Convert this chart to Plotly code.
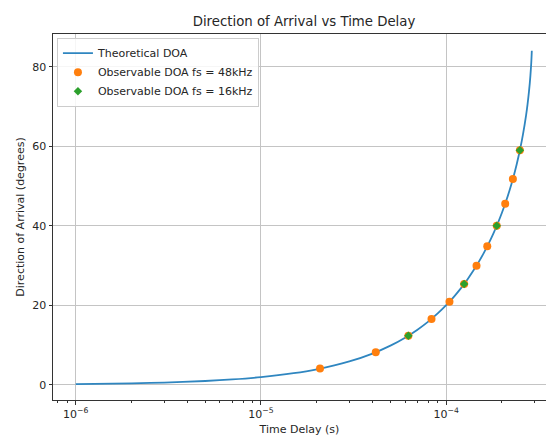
import plotly.graph_objects as go

# Theoretical DOA curve (time delay in s, angle in degrees)
theory_tau = [1e-6, 2e-6, 3e-6, 5e-6, 7e-6, 1e-5, 1.5e-5, 2e-5, 3e-5, 4e-5, 5e-5,
              6e-5, 7e-5, 8e-5, 9e-5, 1e-4, 1.1e-4, 1.2e-4, 1.3e-4, 1.4e-4, 1.5e-4,
              1.6e-4, 1.7e-4, 1.8e-4, 1.9e-4, 2.0e-4, 2.1e-4, 2.2e-4, 2.3e-4, 2.4e-4,
              2.5e-4, 2.6e-4, 2.7e-4, 2.75e-4, 2.8e-4, 2.85e-4, 2.88e-4, 2.9e-4]
theory_deg = [0.197, 0.393, 0.590, 0.983, 1.376, 1.966, 2.949, 3.934, 5.906, 7.886, 9.875,
              11.877, 13.892, 15.927, 17.98, 20.06, 22.17, 24.30, 26.48, 28.70, 30.96,
              33.29, 35.67, 38.12, 40.67, 43.31, 46.08, 48.99, 52.08, 55.40,
              59.04, 63.10, 67.84, 70.61, 73.85, 77.84, 81.06, 84.1]

# Observable DOA, fs = 48 kHz
obs48_tau = [2.0833e-5, 4.1667e-5, 6.25e-5, 8.3333e-5, 1.04167e-4, 1.25e-4,
             1.45833e-4, 1.66667e-4, 1.875e-4, 2.08333e-4, 2.29167e-4, 2.5e-4]
obs48_deg = [4.098, 8.217, 12.379, 16.608, 20.935, 25.387, 30.01, 34.87, 40.03,
             45.61, 51.83, 59.04]

# Observable DOA, fs = 16 kHz
obs16_tau = [6.25e-5, 1.25e-4, 1.875e-4, 2.5e-4]
obs16_deg = [12.379, 25.387, 40.03, 59.04]

x_tickvals = [1e-6, 1e-5, 1e-4]
x_ticktext = ["10<sup>−6</sup>", "10<sup>−5</sup>", "10<sup>−4</sup>"]
y_tickvals = [0, 20, 40, 60, 80]

font = "DejaVu Sans, sans-serif"

fig = go.Figure()
fig.add_trace(go.Scatter(x=theory_tau, y=theory_deg, mode="lines",
                         name="Theoretical DOA",
                         line=dict(color="#2f86c0", width=1.8, shape="spline")))
fig.add_trace(go.Scatter(x=obs48_tau, y=obs48_deg, mode="markers",
                         name="Observable DOA fs = 48kHz",
                         marker=dict(color="#ff7f0e", size=8, symbol="circle")))
fig.add_trace(go.Scatter(x=obs16_tau, y=obs16_deg, mode="markers",
                         name="Observable DOA fs = 16kHz",
                         marker=dict(color="#2ca02c", size=6.5, symbol="diamond")))

fig.update_layout(
    width=546, height=440,
    margin=dict(l=53, r=0, t=34, b=40),
    paper_bgcolor="white", plot_bgcolor="white",
    font=dict(family=font, size=11, color="#262626"),
    title=dict(text="Direction of Arrival vs Time Delay", font=dict(size=13.3, color="#262626"),
               x=304/546, xanchor="center", y=1-21/440, yanchor="middle"),
    legend=dict(x=0.008, y=0.99, xanchor="left", yanchor="top",
                bgcolor="rgba(255,255,255,0.85)", bordercolor="#cccccc", borderwidth=1,
                font=dict(size=11), tracegroupgap=0, itemwidth=30),
    showlegend=True,
)
fig.update_xaxes(type="log", range=[-6.123, -3.461],
                 tickvals=x_tickvals, ticktext=x_ticktext,
                 showgrid=True, gridcolor="#c4c4c4", gridwidth=1,
                 showline=True, linecolor="#333333", linewidth=1, mirror=True,
                 ticks="outside", ticklen=3.5, tickcolor="#333333",
                 minor=dict(ticks="outside", ticklen=2, tickcolor="#333333", showgrid=False,
                            dtick="D1"),
                 zeroline=False,
                 title=dict(text="Time Delay (s)", font=dict(size=11), standoff=5))
fig.update_yaxes(range=[-3.8, 88.3], tickvals=y_tickvals,
                 showgrid=True, gridcolor="#c4c4c4", gridwidth=1,
                 showline=True, linecolor="#333333", linewidth=1,
                 ticks="outside", ticklen=3.5, tickcolor="#333333",
                 zeroline=False,
                 title=dict(text="Direction of Arrival (degrees)", font=dict(size=11), standoff=5))

fig.write_html("out.html")
